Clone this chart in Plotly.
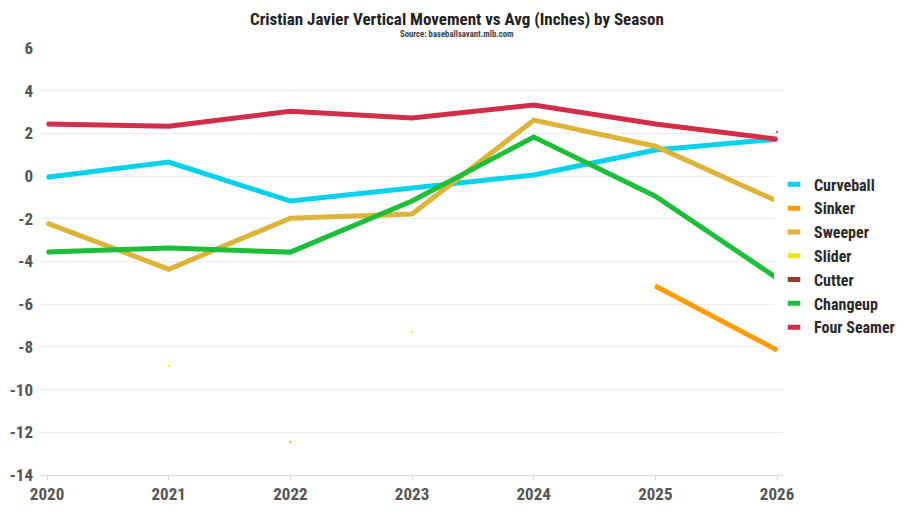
import plotly.graph_objects as go

# Seasons on the x axis
seasons = [2020, 2021, 2022, 2023, 2024, 2025, 2026]

# Vertical movement vs average (inches), None where the pitch wasn't thrown
curveball = [-0.05, 0.66, -1.17, -0.56, 0.05, 1.22, 1.73]
sinker = [None, None, -12.46, None, None, -5.15, -8.15]
sweeper = [-2.2, -4.36, -1.97, -1.78, 2.62, 1.4, -1.17]
slider = [None, -8.9, None, -7.3, None, None, -3.28]
cutter = [None, None, None, None, None, None, 2.06]
changeup = [-3.56, -3.37, -3.56, -1.17, 1.83, -0.94, -4.78]
four_seamer = [2.44, 2.34, 3.04, 2.72, 3.33, 2.44, 1.73]

pitches = [
    ("Curveball", curveball, "#00D1ED"),
    ("Sinker", sinker, "#FE9D00"),
    ("Sweeper", sweeper, "#DDB33A"),
    ("Slider", slider, "#EEE716"),
    ("Cutter", cutter, "#933F2C"),
    ("Changeup", changeup, "#1DBE3A"),
    ("Four Seamer", four_seamer, "#D22D49"),
]

FONT = "Roboto Condensed, Liberation Sans Narrow, Roboto, sans-serif"

fig = go.Figure()

for name, vals, color in pitches:
    fig.add_trace(
        go.Scatter(
            x=seasons,
            y=vals,
            name=name,
            mode="lines+markers",
            line=dict(color=color, width=5),
            marker=dict(color=color, size=2),
            connectgaps=False,
            showlegend=False,
        )
    )
    # legend-only entry so the key is a short thick dash
    fig.add_trace(
        go.Scatter(
            x=[None],
            y=[None],
            name=f"<b>{name}</b>",
            mode="markers",
            marker=dict(symbol="line-ew", size=9, line=dict(color=color, width=5)),
        )
    )

L, R, T, B = 32, 137, 40, 46
plot_w = 912 - L - R
plot_h = 513 - T - B

fig.update_layout(
    width=912,
    height=513,
    plot_bgcolor="white",
    paper_bgcolor="white",
    margin=dict(l=L, r=R, t=T, b=B, autoexpand=False),
    font=dict(family=FONT, color="#555555"),
    legend=dict(
        x=(766 - L) / plot_w,
        y=0.513,
        xanchor="left",
        yanchor="middle",
        font=dict(size=16, color="#2a2a2a", family=FONT),
        tracegroupgap=0,
        itemwidth=30,
    ),
)

mid = (448.5 - L) / plot_w
fig.add_annotation(
    text="<b>Cristian Javier Vertical Movement vs Avg (Inches) by Season</b>",
    xref="paper", yref="paper", x=mid, y=1 + T / plot_h,
    showarrow=False, font=dict(size=17, color="#222222", family=FONT),
    xanchor="center", yanchor="top", borderpad=0,
)
fig.add_annotation(
    text="<b>Source: baseballsavant.mlb.com</b>",
    xref="paper", yref="paper", x=mid, y=1 + (T - 26) / plot_h,
    showarrow=False, font=dict(size=8.7, color="#444444", family=FONT),
    xanchor="center", yanchor="middle",
)

fig.update_xaxes(
    range=[2019.942, 2026.049],
    tickvals=seasons,
    ticktext=[f"<b>{s}</b>" for s in seasons],
    tickfont=dict(size=17, color="#555555", family=FONT),
    showgrid=False,
    showline=True,
    linecolor="#d8d8e4",
    linewidth=1,
    ticks="outside",
    tickcolor="#d8d8e4",
    ticklen=4,
    zeroline=False,
    automargin=False,
)
fig.update_yaxes(
    range=[-14, 6],
    tickvals=list(range(-14, 7, 2)),
    ticktext=[f"<b>{v}</b>" for v in range(-14, 7, 2)],
    tickfont=dict(size=17, color="#555555", family=FONT),
    showgrid=True,
    gridcolor="#ebebeb",
    gridwidth=1,
    zeroline=False,
    ticklabelstandoff=6,
    automargin=False,
)

fig.write_html("out.html")
